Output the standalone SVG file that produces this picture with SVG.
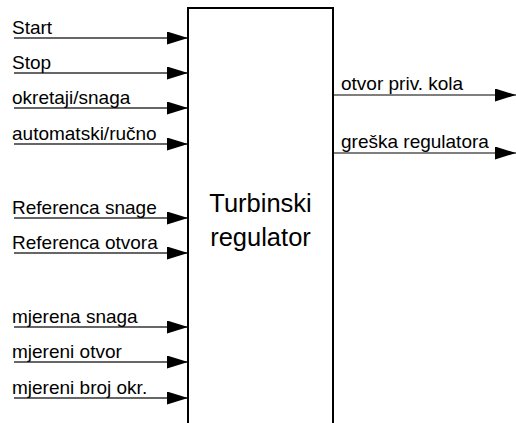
<svg xmlns="http://www.w3.org/2000/svg" width="516" height="423" viewBox="0 0 516 423">
<defs>
<marker id="ah" markerUnits="userSpaceOnUse" markerWidth="21" markerHeight="13" refX="21" refY="6.5" orient="auto">
<path d="M0,0 L21,6.5 L0,13 Z" fill="#000"/>
</marker>
<style>
.lbl{font-family:"Liberation Sans",Arial,sans-serif;font-size:19px;fill:#000}
.ttl{font-family:"Liberation Sans",Arial,sans-serif;font-size:25.5px;fill:#000;text-anchor:middle}
.in{stroke:#333;stroke-width:1.3;fill:none}
.out{stroke:#555;stroke-width:1.5;fill:none}
</style>
</defs>
<rect width="516" height="423" fill="#fff"/>
<g id="connectors">
<line class="in" x1="14" y1="38" x2="188" y2="38" marker-end="url(#ah)"/>
<line class="in" x1="14" y1="73" x2="188" y2="73" marker-end="url(#ah)"/>
<line class="in" x1="14" y1="108" x2="188" y2="108" marker-end="url(#ah)"/>
<line class="in" x1="14" y1="144" x2="188" y2="144" marker-end="url(#ah)"/>
<line class="in" x1="14" y1="218" x2="188" y2="218" marker-end="url(#ah)"/>
<line class="in" x1="14" y1="253" x2="188" y2="253" marker-end="url(#ah)"/>
<line class="in" x1="14" y1="327" x2="188" y2="327" marker-end="url(#ah)"/>
<line class="in" x1="14" y1="362" x2="188" y2="362" marker-end="url(#ah)"/>
<line class="in" x1="14" y1="398" x2="188" y2="398" marker-end="url(#ah)"/>
<line class="out" x1="333" y1="95" x2="516" y2="95" marker-end="url(#ah)"/>
<line class="out" x1="333" y1="153" x2="516" y2="153" marker-end="url(#ah)"/>
</g>
<g id="labels">
<text class="lbl" x="12" y="34">Start</text>
<text class="lbl" x="12" y="69">Stop</text>
<text class="lbl" x="12" y="104">okretaji/snaga</text>
<text class="lbl" x="12" y="140">automatski/ručno</text>
<text class="lbl" x="12" y="214">Referenca snage</text>
<text class="lbl" x="12" y="249">Referenca otvora</text>
<text class="lbl" x="12" y="323">mjerena snaga</text>
<text class="lbl" x="12" y="358">mjereni otvor</text>
<text class="lbl" x="12" y="394">mjereni broj okr.</text>
<text class="lbl" x="341" y="90">otvor priv. kola</text>
<text class="lbl" x="341" y="148">greška regulatora</text>
</g>
<g id="turbinski-regulator">
<path d="M188,430 V8 H333 V430" fill="none" stroke="#000" stroke-width="2"/>
<text class="ttl" x="260.5" y="212">Turbinski</text>
<text class="ttl" x="260.5" y="246">regulator</text>
</g>
</svg>
